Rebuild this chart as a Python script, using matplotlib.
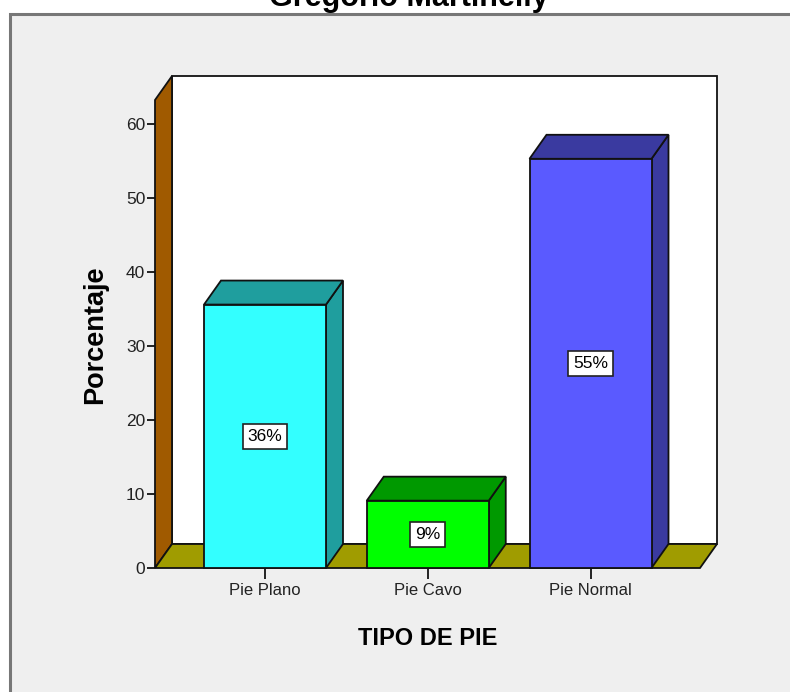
import matplotlib
matplotlib.use("Agg")
import matplotlib.pyplot as plt
from matplotlib.patches import Polygon, Rectangle

plt.rcParams['font.family'] = ['Liberation Sans', 'DejaVu Sans']

# data
categorias = ["Pie Plano", "Pie Cavo", "Pie Normal"]
porcentajes = [35.6, 9.1, 55.3]
etiquetas = ["36%", "9%", "55%"]
yticks = [0, 10, 20, 30, 40, 50, 60]

front_cols = ["#33ffff", "#00ff00", "#5a5aff"]
side_cols = ["#1f9e9e", "#009900", "#3a3aa0"]

W, H = 790, 692
fig = plt.figure(figsize=(W / 100, H / 100), dpi=100)
fig.patch.set_facecolor("white")

# grey panel with border (cut at right / bottom like the original)
fig.patches.append(Rectangle((10 / W, -0.05), 1.2, 1 - 14 / H + 0.05,
                             transform=fig.transFigure, facecolor="#efefef",
                             edgecolor="#777777", lw=2.2, zorder=-5))

# title only partially visible at the top, as in the original
fig.text(409 / W, 1 - 6 / H, "Gregorio Martinelly", ha="center", va="baseline",
         fontsize=22, fontweight="bold")

# front plane of the chart
x_left, x_right = 155, 700
y_zero, y_top = 568, 100
ax = fig.add_axes([x_left / W, 1 - y_zero / H, (x_right - x_left) / W, (y_zero - y_top) / H])
ax.set_facecolor("none")

px_per_unit_y = 7.4
ymax = (y_zero - y_top) / px_per_unit_y
cat_px = [265, 427.5, 591]
px_per_cat = cat_px[1] - cat_px[0] + 0.25
x0 = (x_left - cat_px[0]) / px_per_cat
x1 = (x_right - cat_px[0]) / px_per_cat
ax.set_xlim(x0, x1)
ax.set_ylim(0, ymax)

dx = 17 / px_per_cat   # depth offset
dy = 24 / px_per_unit_y
hw = 61 / px_per_cat   # half bar width

ec = "#111111"
lw = 1.3

# back wall
ax.add_patch(Rectangle((x0 + dx, dy), x1 - x0, ymax, facecolor="white",
                       edgecolor=ec, lw=lw, clip_on=False, zorder=1))
# left wall
ax.add_patch(Polygon([(x0, 0), (x0, ymax), (x0 + dx, ymax + dy), (x0 + dx, dy)],
                     closed=True, facecolor="#a05a00", edgecolor=ec, lw=lw,
                     clip_on=False, zorder=2))
# floor
ax.add_patch(Polygon([(x0, 0), (x1, 0), (x1 + dx, dy), (x0 + dx, dy)],
                     closed=True, facecolor="#a09c00", edgecolor=ec, lw=lw,
                     clip_on=False, zorder=2))

for i, v in enumerate(porcentajes):
    l, r = i - hw, i + hw
    ax.add_patch(Polygon([(r, 0), (r + dx, dy), (r + dx, v + dy), (r, v)],
                         closed=True, facecolor=side_cols[i], edgecolor=ec, lw=lw,
                         clip_on=False, zorder=3))
    ax.add_patch(Polygon([(l, v), (r, v), (r + dx, v + dy), (l + dx, v + dy)],
                         closed=True, facecolor=side_cols[i], edgecolor=ec, lw=lw,
                         clip_on=False, zorder=3))
    ax.add_patch(Rectangle((l, 0), r - l, v, facecolor=front_cols[i],
                           edgecolor=ec, lw=lw, clip_on=False, zorder=4))
    ax.text(i, v / 2, etiquetas[i], ha="center", va="center", fontsize=12.5, zorder=5,
            bbox=dict(boxstyle="square,pad=0.28", facecolor="white",
                      edgecolor="#222222", lw=1.2))

for s in ["top", "right", "left", "bottom"]:
    ax.spines[s].set_visible(False)

ax.set_yticks(yticks)
ax.set_yticklabels([str(t) for t in yticks], fontsize=12.5, color="#222222")
ax.set_xticks(range(len(categorias)))
ax.set_xticklabels(categorias, fontsize=12, color="#222222")
ax.tick_params(axis="y", length=6, width=1.4, color="#222222", pad=1)
ax.tick_params(axis="x", length=8, width=1.4, color="#222222", pad=3)

ax.set_ylabel("Porcentaje", fontsize=19.5, fontweight="bold")
ax.yaxis.set_label_coords((108 - x_left) / (x_right - x_left), (y_zero - 335) / (y_zero - y_top))
ax.set_xlabel("TIPO DE PIE", fontsize=17, fontweight="bold")
ax.xaxis.set_label_coords((428 - x_left) / (x_right - x_left), -(627 - y_zero) / (y_zero - y_top))

fig.savefig("out.png", dpi=100)
